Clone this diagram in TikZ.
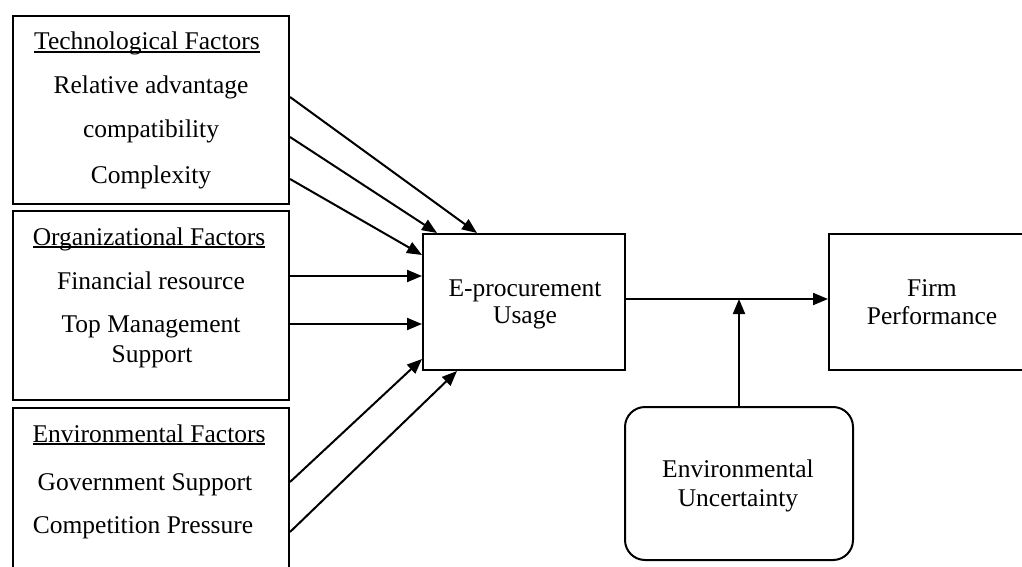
\documentclass[tikz,border=0pt]{standalone}
\usepackage{fontspec}
\setmainfont{Liberation Serif}
\usetikzlibrary{arrows.meta}
\newcommand{\myul}[1]{\setbox0\hbox{#1}\rlap{\rule[-3pt]{\wd0}{1.8pt}}\box0}
\begin{document}
\begin{tikzpicture}[x=1pt,y=-1pt,
  box/.style={draw, line width=2pt, inner sep=0pt},
  rbox/.style={draw, line width=2pt, inner sep=0pt, rounded corners=20pt},
  txt/.style={inner sep=0pt, anchor=base, font=\fontsize{25.5}{30}\selectfont},
  arr/.style={line width=2pt, -{Triangle[length=15pt,width=12pt]}}]
\useasboundingbox (0,0) rectangle (1022,567);
\clip (0,0) rectangle (1022,567);
% boxes
\node[box, minimum width=276pt, minimum height=188pt] (tech) at (151,110) {};
\node[box, minimum width=276pt, minimum height=189pt] (org) at (151,305.5) {};
\node[box, minimum width=276pt, minimum height=200pt] (env) at (151,508) {};
\node[box, minimum width=202pt, minimum height=136pt] (eproc) at (524,302) {};
\node[box, minimum width=240pt, minimum height=136pt] (firm) at (949,302) {};
\node[rbox, minimum width=228pt, minimum height=153pt] (envu) at (739,483.5) {};
% texts
\node[txt] (t0) at (147,50) {\myul{Technological Factors}};
\node[txt] (t1) at (151,94) {Relative advantage};
\node[txt] (t2) at (151,137) {compatibility};
\node[txt] (t3) at (151,183) {Complexity};
\node[txt] (o0) at (149,245) {\myul{Organizational Factors}};
\node[txt] (o1) at (151,289) {Financial resource};
\node[txt] (o2) at (151,332) {Top Management};
\node[txt] (o3) at (152,362) {Support};
\node[txt] (e0) at (149,442) {\myul{Environmental Factors}};
\node[txt] (e1) at (145,490) {Government Support};
\node[txt] (e2) at (143,533) {Competition Pressure};
\node[txt] (p1) at (525,296) {E-procurement};
\node[txt] (p2) at (525,323) {Usage};
\node[txt] (f1) at (932,296) {Firm};
\node[txt] (f2) at (932,324) {Performance};
\node[txt] (u1) at (738,477) {Environmental};
\node[txt] (u2) at (738,506) {Uncertainty};
% connectors
\draw[arr] (tech.east |- 0,97) -- (eproc.north -| 477,0);
\draw[arr] (tech.east |- 0,137) -- (eproc.north -| 437,0);
\draw[arr] (tech.east |- 0,179) -- (eproc.west |- 0,255);
\draw[arr] (org.east |- 0,276) -- (eproc.west |- 0,276);
\draw[arr] (org.east |- 0,324) -- (eproc.west |- 0,324);
\draw[arr] (env.east |- 0,482) -- (eproc.west |- 0,359);
\draw[arr] (env.east |- 0,532) -- (eproc.south -| 457,0);
\draw[arr] (eproc.east |- 0,299) -- (firm.west |- 0,299);
\coordinate (m) at (envu.north |- 0,299);
\draw[arr] (envu.north) -- (m);
\end{tikzpicture}
\end{document}
